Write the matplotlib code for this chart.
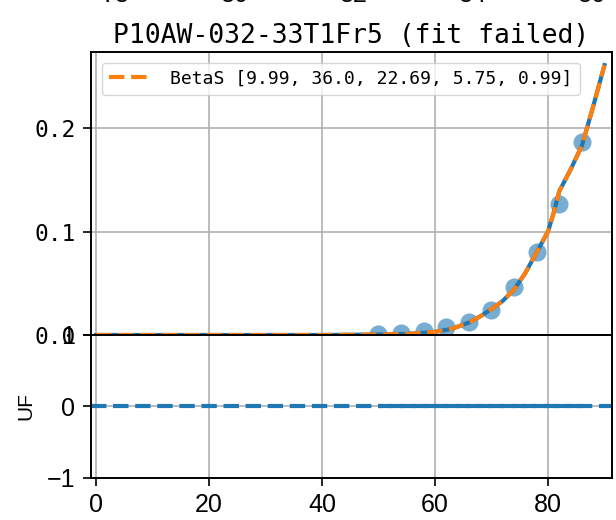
import matplotlib
matplotlib.use('Agg')
import matplotlib.pyplot as plt

# ==================== 数据 ====================
title = 'P10AW-032-33T1Fr5 (fit failed)'
fit_label = 'BetaS [9.99, 36.0, 22.69, 5.75, 0.99]'

# 测量点
point_x = [50, 54, 58, 62, 66, 70, 74, 78, 82, 86]
point_uf = [0.001, 0.002, 0.004, 0.008, 0.013, 0.024, 0.046, 0.080, 0.127, 0.187]

# 拟合曲线
curve_x = [0, 10, 20, 30, 40, 45, 50, 55, 60, 63, 66, 68, 70, 72, 74, 76,
           78, 80, 81, 82, 84, 86, 88, 90]
curve_uf = [0, 0, 0, 0, 0, 0.0002, 0.0005, 0.001, 0.003, 0.006, 0.012, 0.018,
            0.025, 0.033, 0.044, 0.060, 0.080, 0.100, 0.118, 0.139, 0.160,
            0.183, 0.221, 0.261]

# 残差
resid = [0, 0, 0, 0, 0, 0, 0, 0, 0, 0]

top_yticks = [0.0, 0.1, 0.2]
bottom_yticks = [-1, 0, 1]
upper_ticks = [78, 80, 82, 84, 86]   # 上一张子图残留的刻度

mono = 'DejaVu Sans Mono'
sans = 'Liberation Sans'
grid_kw = dict(color='#b0b0b0', linewidth=1.2)

fig = plt.figure(figsize=(6.16, 5.2), dpi=100)
left, width = 0.1472, 0.8463
ax = fig.add_axes([left, 0.3558, width, 0.5448])
ax_r = fig.add_axes([left, 0.0808, width, 0.2750], sharex=ax)
ax_up = fig.add_axes([left, 1.0465, width, 0.2])

# 主图
ax.scatter(point_x, point_uf, s=170, color='C0', alpha=0.6, linewidths=0)
ax.plot(curve_x, curve_uf, color='C0', lw=3)
ax.plot(curve_x, curve_uf, '--', color='C1', lw=3, label=fit_label)
ax.set_xlim(-0.94, 91.33)
ax.set_ylim(0, 0.274)
ax.set_yticks(top_yticks)
ax.grid(True, **grid_kw)
ax.tick_params(axis='x', length=0, labelbottom=False)
ax.tick_params(axis='y', length=5.5, width=1.2, pad=5.5,
               labelsize=16.5, labelfontfamily=mono)
ax.set_title(title, family=mono, fontsize=19, pad=6)
ax.legend(loc='upper left', prop={'family': mono, 'size': 13},
          handlelength=2.4, handletextpad=1.0, borderaxespad=0.6)

# 残差图（两条虚线相位错开，重叠处看起来像实线）
ax_r.plot(point_x, resid, color='C0', lw=3, linestyle=(2.6, (3.7, 1.6)))
ax_r.axhline(0, ls='--', color='C0', lw=3)
ax_r.set_ylim(-1, 1)
ax_r.set_yticks(bottom_yticks)
ax_r.grid(True, **grid_kw)
ax_r.tick_params(length=5.5, width=1.2, pad=5.5, labelsize=18,
                 labelfontfamily=sans)
ax_r.set_ylabel('UF', family=sans, fontsize=15, labelpad=8)

for a in (ax, ax_r):
    for sp in a.spines.values():
        sp.set_linewidth(1.4)

# 上方被裁掉的子图，只剩刻度标签
ax_up.set_xlim(77.575, 86.336)
ax_up.set_xticks(upper_ticks)
ax_up.tick_params(axis='x', length=0, pad=5.5, labelsize=18,
                  labelfontfamily=sans)
ax_up.set_yticks([])
ax_up.patch.set_visible(False)
for sp in ax_up.spines.values():
    sp.set_visible(False)

fig.savefig('out.png', dpi=100, facecolor='white')
